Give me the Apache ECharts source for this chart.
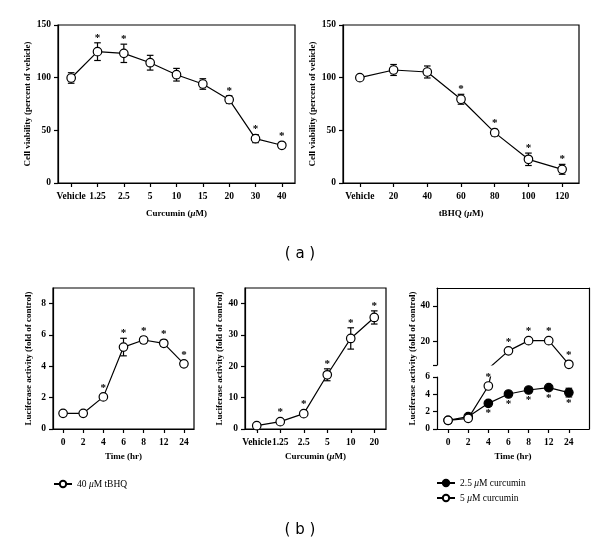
<!DOCTYPE html>
<html>
<head>
<meta charset="utf-8">
<script src="https://cdn.jsdelivr.net/npm/echarts@6/dist/echarts.min.js"></script>
<style>
  html, body { margin: 0; padding: 0; background: #fff; }
  #main { width: 600px; height: 550px; }
</style>
</head>
<body>
<div id="main"></div>
<script>
// (a) cell viability
var curcuminDoses = ['Vehicle', '1.25', '2.5', '5', '10', '15', '20', '30', '40'];
var curcuminViability = [99.7, 124.7, 123.1, 114.2, 102.8, 94, 79.1, 42.1, 35.8];
var curcuminViabilityErr = [5, 8.4, 8.7, 7, 6, 5, 3.6, 3.8, 2];
var curcuminViabilityStar = [0, 1, 1, 0, 0, 0, 1, 1, 1];

var tbhqDoses = ['Vehicle', '20', '40', '60', '80', '100', '120'];
var tbhqViability = [100, 107.3, 105.4, 79.5, 47.8, 22.5, 13];
var tbhqViabilityErr = [0, 5.2, 5.7, 4.7, 3.2, 5.9, 4.7];
var tbhqViabilityStar = [0, 0, 0, 1, 1, 1, 1];

// (b) luciferase activity
var hours = ['0', '2', '4', '6', '8', '12', '24'];
var tbhqLuc = [1.0, 1.0, 2.05, 5.23, 5.68, 5.47, 4.16];
var tbhqLucErr = [0.05, 0.05, 0.1, 0.56, 0.2, 0.2, 0.1];
var tbhqLucStar = [0, 0, 1, 1, 1, 1, 1];

var lucDoses = ['Vehicle', '1.25', '2.5', '5', '10', '20'];
var curcuminLuc = [1.06, 2.35, 4.9, 17.3, 28.9, 35.6];
var curcuminLucErr = [0.3, 0.4, 0.6, 1.9, 3.4, 2.1];
var curcuminLucStar = [0, 1, 1, 1, 1, 1];

var cur25Luc = [1.0, 1.42, 2.96, 4.04, 4.5, 4.77, 4.2];
var cur25LucErr = [0.1, 0.1, 0.15, 0.2, 0.25, 0.2, 0.5];
var cur25LucStar = [0, 0, 1, 1, 1, 1, 1];
var cur5Luc = [1.0, 1.23, 4.96, 14.9, 20.6, 20.6, 7.4];
var cur5LucErr = [0.1, 0.1, 0.2, 0.5, 0.5, 0.5, 0.3];
var cur5LucStar = [0, 0, 1, 1, 1, 1, 1];

// tick labels
var viabTicks = [0, 50, 100, 150];
var timeLucTicks = [0, 2, 4, 6, 8];
var doseLucTicks = [0, 10, 20, 30, 40];
var lowerTicks = [0, 2, 4, 6];
var upperTicks = [20, 40];

var FONT = '"Liberation Serif", "DejaVu Serif", serif';
var chart = echarts.init(document.getElementById('main'));

function pack(vals, errs, stars) {
  return vals.map(function (v, i) { return [i, v, errs[i], stars[i]]; });
}

function errorBar(params, api) {
  var x = api.value(0), y = api.value(1), e = api.value(2);
  if (!e) return null;
  var hi = api.coord([x, y + e]), lo = api.coord([x, y - e]);
  var w = 3.3;
  var st = { stroke: '#000', lineWidth: 1.2 };
  return {
    type: 'group',
    children: [
      { type: 'line', shape: { x1: hi[0], y1: hi[1], x2: lo[0], y2: lo[1] }, style: st },
      { type: 'line', shape: { x1: hi[0] - w, y1: hi[1], x2: hi[0] + w, y2: hi[1] }, style: st },
      { type: 'line', shape: { x1: lo[0] - w, y1: lo[1], x2: lo[0] + w, y2: lo[1] }, style: st }
    ]
  };
}

// asterisk above (dir 1) or below (dir -1) the point / error bar
function starMark(dir) {
  return function (params, api) {
    if (!api.value(3)) return null;
    var x = api.value(0), y = api.value(1), e = api.value(2);
    var p = api.coord([x, y]);
    var bar = api.coord([x, y + dir * e]);
    var edge = dir > 0 ? Math.min(p[1] - 4, bar[1]) : Math.max(p[1] + 4, bar[1]);
    var yy = dir > 0 ? edge - 5 : edge + 6;
    return {
      type: 'text', x: p[0], y: yy,
      style: { text: '*', fill: '#000', font: 'bold 11px ' + FONT, align: 'center', verticalAlign: 'middle' }
    };
  };
}

var lineStyle = { color: '#000', width: 1.2 };
var openItem = { color: '#fff', borderColor: '#000', borderWidth: 1.2 };
var fillItem = { color: '#000', borderColor: '#000', borderWidth: 1.2 };
var labelStyle = { color: '#000', fontFamily: FONT, fontWeight: 'bold', fontSize: 9.5 };
var nameStyle = {
  color: '#000', fontFamily: FONT, fontWeight: 'bold', fontSize: 9,
  rich: { mu: { fontStyle: 'italic', fontFamily: FONT, fontWeight: 'bold', fontSize: 9 } }
};
var axisLine = { show: true, onZero: false, lineStyle: { color: '#000', width: 1.2 } };
var axisTick = { show: true, length: 4, lineStyle: { color: '#000', width: 1.2 } };
var noTick = { show: false };
var noLabel = { show: false };
var noSplit = { show: false };

function catX(grid, cats, name, gap) {
  return {
    type: 'category', gridIndex: grid, data: cats, boundaryGap: true,
    axisLine: axisLine, axisTick: Object.assign({ alignWithLabel: true }, axisTick),
    axisLabel: Object.assign({ margin: 9, interval: 0 }, labelStyle),
    name: name, nameLocation: 'middle', nameGap: gap, nameTextStyle: nameStyle
  };
}
function valY(grid, min, max, ticks, name, gap) {
  return {
    type: 'value', gridIndex: grid, min: min, max: max,
    axisLine: axisLine, splitLine: noSplit,
    axisTick: Object.assign({ customValues: ticks }, axisTick),
    axisLabel: Object.assign({ margin: 7, customValues: ticks }, labelStyle),
    name: name, nameLocation: 'middle', nameGap: gap, nameTextStyle: nameStyle
  };
}
function lineSeries(name, xi, yi, data, item) {
  return {
    name: name, type: 'line', xAxisIndex: xi, yAxisIndex: yi, data: data,
    symbol: 'circle', symbolSize: 8.5, lineStyle: lineStyle, itemStyle: item,
    z: 3, animation: false, clip: true
  };
}
function errSeries(xi, yi, data) {
  return { type: 'custom', xAxisIndex: xi, yAxisIndex: yi, data: data, renderItem: errorBar, z: 2, clip: true, animation: false };
}
function starSeries(xi, yi, data, dir) {
  return { type: 'custom', xAxisIndex: xi, yAxisIndex: yi, data: data, renderItem: starMark(dir), z: 4, animation: false };
}

var boxGrid = { show: true, borderColor: '#000', borderWidth: 1.2, backgroundColor: 'transparent' };
var VIAB = 'Cell viability (percent of vehicle)';
var LUC = 'Luciferase activity (fold of control)';

var hourIdx = hours.map(function (h, i) { return i; });
var breakX = {
  type: 'value', min: -0.55, max: 7,
  axisLine: axisLine,
  axisTick: Object.assign({ customValues: hourIdx }, axisTick),
  axisLabel: Object.assign({ margin: 9, customValues: hourIdx, formatter: function (v) { return hours[Math.round(v)]; } }, labelStyle),
  splitLine: noSplit
};

var cur25Data = pack(cur25Luc, cur25LucErr, cur25LucStar);
var cur5Data = pack(cur5Luc, cur5LucErr, cur5LucStar);
var cur25Pts = cur25Luc.map(function (v, i) { return [i, v]; });
var cur5Pts = cur5Luc.map(function (v, i) { return [i, v]; });

var legendText = {
  color: '#000', fontFamily: FONT, fontSize: 9.5,
  rich: { mu: { fontStyle: 'italic', fontFamily: FONT, fontSize: 9.5 } }
};
function muFormat(n) { return n.replace('μ', '{mu|μ}'); }

var option = {
  backgroundColor: '#fff',
  animation: false,
  title: [
    { text: '( a )', left: 'center', top: 242, textStyle: { fontFamily: '"DejaVu Sans", sans-serif', fontWeight: 'normal', fontSize: 15, color: '#000' } },
    { text: '( b )', left: 'center', top: 518, textStyle: { fontFamily: '"DejaVu Sans", sans-serif', fontWeight: 'normal', fontSize: 15, color: '#000' } }
  ],
  legend: [
    {
      data: ['40 μM tBHQ'], left: 48, top: 474, itemWidth: 18, itemHeight: 8,
      formatter: muFormat, textStyle: legendText
    },
    {
      data: ['2.5 μM curcumin', '5 μM curcumin'], left: 431, top: 473, orient: 'vertical',
      itemGap: 5, itemWidth: 18, itemHeight: 8, formatter: muFormat, textStyle: legendText
    }
  ],
  grid: [
    Object.assign({ left: 58, top: 25, width: 237, height: 158 }, boxGrid),
    Object.assign({ left: 343, top: 25, width: 236, height: 158 }, boxGrid),
    Object.assign({ left: 53, top: 288, width: 141, height: 141 }, boxGrid),
    Object.assign({ left: 245, top: 288, width: 141, height: 141 }, boxGrid),
    { left: 437, top: 377, width: 152, height: 52 },   // 4: lower part of broken axis
    { left: 437, top: 288, width: 152, height: 77 },   // 5: upper part of broken axis
    { left: 437, top: 288, width: 152, height: 141 }   // 6: frame of broken panel
  ],
  xAxis: [
    catX(0, curcuminDoses, 'Curcumin ({mu|μ}M)', 26),
    catX(1, tbhqDoses, 'tBHQ ({mu|μ}M)', 26),
    catX(2, hours, 'Time (hr)', 23),
    catX(3, lucDoses, 'Curcumin ({mu|μ}M)', 23),
    Object.assign({ gridIndex: 4, name: 'Time (hr)', nameLocation: 'middle', nameGap: 23, nameTextStyle: nameStyle }, breakX),
    Object.assign({}, breakX, { gridIndex: 5, show: false }),
    { type: 'value', gridIndex: 6, position: 'top', min: 0, max: 1, axisLine: axisLine, axisTick: noTick, axisLabel: noLabel, splitLine: noSplit }
  ],
  yAxis: [
    valY(0, 0, 150, viabTicks, VIAB, 26),
    valY(1, 0, 150, viabTicks, VIAB, 26),
    valY(2, 0, 9, timeLucTicks, LUC, 20),
    valY(3, 0, 45, doseLucTicks, LUC, 20),
    valY(4, 0, 6, lowerTicks, '', 0),
    {
      type: 'value', gridIndex: 5, min: 7, max: 50,
      axisLine: axisLine, splitLine: noSplit,
      axisTick: Object.assign({ customValues: [7].concat(upperTicks) }, axisTick),
      axisLabel: Object.assign({ margin: 7, customValues: upperTicks }, labelStyle)
    },
    { type: 'value', gridIndex: 6, position: 'right', min: 0, max: 1, axisLine: axisLine, axisTick: noTick, axisLabel: noLabel, splitLine: noSplit },
    {
      type: 'value', gridIndex: 6, position: 'left', min: 0, max: 1, axisLine: { show: false }, axisTick: noTick, axisLabel: noLabel, splitLine: noSplit,
      name: LUC, nameLocation: 'middle', nameGap: 20, nameTextStyle: nameStyle
    }
  ],
  series: [
    lineSeries('viab-cur', 0, 0, curcuminViability, openItem),
    errSeries(0, 0, pack(curcuminViability, curcuminViabilityErr, curcuminViabilityStar)),
    starSeries(0, 0, pack(curcuminViability, curcuminViabilityErr, curcuminViabilityStar), 1),

    lineSeries('viab-tbhq', 1, 1, tbhqViability, openItem),
    errSeries(1, 1, pack(tbhqViability, tbhqViabilityErr, tbhqViabilityStar)),
    starSeries(1, 1, pack(tbhqViability, tbhqViabilityErr, tbhqViabilityStar), 1),

    lineSeries('40 μM tBHQ', 2, 2, tbhqLuc, openItem),
    errSeries(2, 2, pack(tbhqLuc, tbhqLucErr, tbhqLucStar)),
    starSeries(2, 2, pack(tbhqLuc, tbhqLucErr, tbhqLucStar), 1),

    lineSeries('luc-cur', 3, 3, curcuminLuc, openItem),
    errSeries(3, 3, pack(curcuminLuc, curcuminLucErr, curcuminLucStar)),
    starSeries(3, 3, pack(curcuminLuc, curcuminLucErr, curcuminLucStar), 1),

    lineSeries('2.5 μM curcumin', 4, 4, cur25Pts, fillItem),
    errSeries(4, 4, cur25Data),
    starSeries(4, 4, cur25Data, -1),

    lineSeries('5 μM curcumin', 4, 4, cur5Pts, openItem),
    lineSeries('5 μM curcumin', 5, 5, cur5Pts, openItem),
    starSeries(4, 4, cur5Data.filter(function (d) { return d[1] < 6; }), 1),
    starSeries(5, 5, cur5Data.filter(function (d) { return d[1] >= 7; }), 1)
  ]
};

chart.setOption(option);
</script>
</body>
</html>
